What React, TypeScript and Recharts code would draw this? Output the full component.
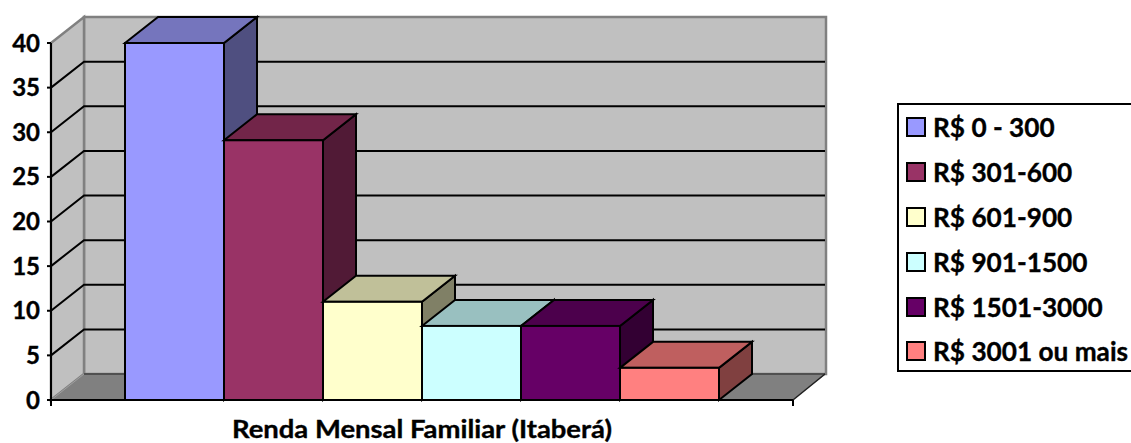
import React from "react";
import { BarChart, Bar, XAxis, YAxis, CartesianGrid, Legend } from "recharts";

const FONT = "Lato, Carlito, sans-serif";
const axisTitle = "Renda Mensal Familiar (Itaberá)";
const bandNames = ["R$ 0 - 300", "R$ 301-600", "R$ 601-900", "R$ 901-1500", "R$ 1501-3000", "R$ 3001 ou mais"];
const bandValues = [40, 29.1, 11, 8.3, 8.3, 3.6];
const frontColors = ["#9999FF", "#993366", "#FFFFCC", "#CCFFFF", "#660066", "#FF8080"];
const topColors = ["#7575BD", "#722549", "#C0C099", "#99C0C0", "#4C004C", "#BF5F5F"];
const sideColors = ["#4F4F80", "#511A36", "#808066", "#668080", "#330033", "#804040"];
const yTicks = [0, 5, 10, 15, 20, 25, 30, 35, 40];

// Depth of the pseudo-3D projection, in pixels.
const DX = 33;
const DY = 26;
const WIDTH = 1131;
const HEIGHT = 443;
const MARGIN = { top: 43, right: 338, bottom: 0, left: 0 };
const X_AXIS_H = 43;
const Y_AXIS_W = 51;
const PLOT_W = WIDTH - MARGIN.right - Y_AXIS_W;

const row: Record<string, string | number> = { name: axisTitle };
bandNames.forEach((n, i) => { row[n] = bandValues[i]; });
const data = [row];

const WALL = "#C0C0C0";
const EDGE = "#808080";
const HEAVY_TEXT = { stroke: "#000", strokeWidth: 0.35, paintOrder: "stroke" as const };

// Back wall, side wall and floor of the box, drawn before the grid lines.
function wallLayer(props: any) {
  if (props.index !== 0) return <g key={props.key} />;
  const left = props.x1;
  const right = props.x2;
  const top = MARGIN.top;
  const bottom = HEIGHT - X_AXIS_H;
  return (
    <g key={props.key}>
      <polygon points={`${left + DX},${top - DY} ${right + DX},${top - DY} ${right + DX},${bottom - DY} ${left + DX},${bottom - DY}`} fill={WALL} stroke={EDGE} strokeWidth={2.5} />
      <polygon points={`${left},${top} ${left + DX},${top - DY} ${left + DX},${bottom - DY} ${left},${bottom}`} fill={WALL} stroke={EDGE} strokeWidth={2.5} />
      <polygon points={`${left},${bottom} ${left + DX},${bottom - DY} ${right + DX},${bottom - DY} ${right},${bottom}`} fill={EDGE} />
    </g>
  );
}

function gridLine(props: any) {
  const { x1, x2, y1, key } = props;
  const bottom = HEIGHT - X_AXIS_H;
  if (y1 <= MARGIN.top + 1) return <g key={key} />;
  if (y1 >= bottom - 1) {
    return (
      <g key={key} fill="none">
        <polyline points={`${x1},${y1} ${x1 + DX},${y1 - DY}`} stroke="#A0A0A0" strokeWidth={1} />
        <polyline points={`${x1 + DX},${y1 - DY} ${x2 + DX - 1},${y1 - DY}`} stroke="#404040" strokeWidth={1.5} />
        <polyline points={`${x2},${y1} ${x2 + DX - 1},${y1 - DY}`} stroke="#202020" strokeWidth={1.5} />
      </g>
    );
  }
  return (
    <polyline
      key={key}
      points={`${x1},${y1} ${x1 + DX},${y1 - DY} ${x2 + DX - 1},${y1 - DY}`}
      fill="none"
      stroke="#000"
      strokeWidth={2}
    />
  );
}

function box3d(index: number) {
  return function Box(props: any) {
    const { x, y, width, height } = props;
    const line = { stroke: "#000", strokeWidth: 2, strokeLinejoin: "miter" as const };
    return (
      <g>
        <polygon points={`${x + width},${y} ${x + width + DX},${y - DY} ${x + width + DX},${y + height - DY} ${x + width},${y + height}`} fill={sideColors[index]} {...line} />
        <polygon points={`${x},${y} ${x + DX},${y - DY} ${x + width + DX},${y - DY} ${x + width},${y}`} fill={topColors[index]} {...line} />
        <rect x={x} y={y} width={width} height={height} fill={frontColors[index]} {...line} />
      </g>
    );
  };
}

// Category title under the axis, with tick marks at both ends of the category band.
function CategoryTick(props: any) {
  const { x, payload } = props;
  const axisY = HEIGHT - X_AXIS_H;
  return (
    <g>
      <line x1={x - PLOT_W / 2} x2={x - PLOT_W / 2} y1={axisY} y2={axisY + 6} stroke="#000" strokeWidth={2} />
      <line x1={x + PLOT_W / 2} x2={x + PLOT_W / 2} y1={axisY} y2={axisY + 6} stroke="#000" strokeWidth={2} />
      <text x={x} y={axisY + 38} textAnchor="middle" fontFamily={FONT} fontWeight={700} fontSize={24} textLength={380} lengthAdjust="spacingAndGlyphs" fill="#000" {...HEAVY_TEXT}>
        {payload.value}
      </text>
    </g>
  );
}

// The frame runs past the right edge of the page, so only three of its sides show.
function LegendBox({ payload }: any) {
  return (
    <div style={{ boxSizing: "border-box", width: 245, height: 269, border: "2px solid #000", background: "#fff", fontFamily: FONT, fontWeight: 700, fontSize: 26.2, color: "#000", WebkitTextStroke: "0.35px #000" }}>
      {(payload || []).map((entry: any) => (
        <div key={entry.value} style={{ display: "flex", alignItems: "center", height: 44.8, paddingLeft: 7 }}>
          <span style={{ boxSizing: "border-box", width: 20, height: 20, border: "2px solid #000", background: entry.color, marginRight: 7, flex: "none" }} />
          <span style={{ whiteSpace: "nowrap" }}>{entry.value}</span>
        </div>
      ))}
    </div>
  );
}

export default function App() {
  return (
    <div style={{ position: "absolute", left: 0, top: 0, width: WIDTH, height: HEIGHT, background: "#fff", overflow: "hidden" }}>
      <BarChart width={WIDTH} height={HEIGHT} data={data} margin={MARGIN} barGap={0} barCategoryGap={74}>
        <CartesianGrid vertical={false} horizontal={wallLayer} />
        <CartesianGrid vertical={false} horizontal={gridLine} />
        <XAxis
          dataKey="name"
          height={X_AXIS_H}
          tickLine={false}
          axisLine={{ stroke: "#000", strokeWidth: 2 }}
          tick={<CategoryTick />}
          interval={0}
        />
        <YAxis
          width={Y_AXIS_W}
          domain={[0, 40]}
          ticks={yTicks}
          interval={0}
          tickSize={4}
          tickMargin={7}
          axisLine={{ stroke: "#000", strokeWidth: 2 }}
          tickLine={{ stroke: "#000", strokeWidth: 2 }}
          tick={{ fontFamily: FONT, fontWeight: 700, fontSize: 24, fill: "#000", ...HEAVY_TEXT }}
        />
        <Legend
          layout="horizontal"
          verticalAlign="middle"
          align="center"
          itemSorter={null}
          content={<LegendBox />}
          wrapperStyle={{ left: 897, top: 103, width: 245, height: 269, bottom: "auto", right: "auto" }}
        />
        {bandNames.map((n, i) => (
          <Bar key={n} dataKey={n} name={n} fill={frontColors[i]} isAnimationActive={false} shape={box3d(i)} />
        ))}
      </BarChart>
    </div>
  );
}
